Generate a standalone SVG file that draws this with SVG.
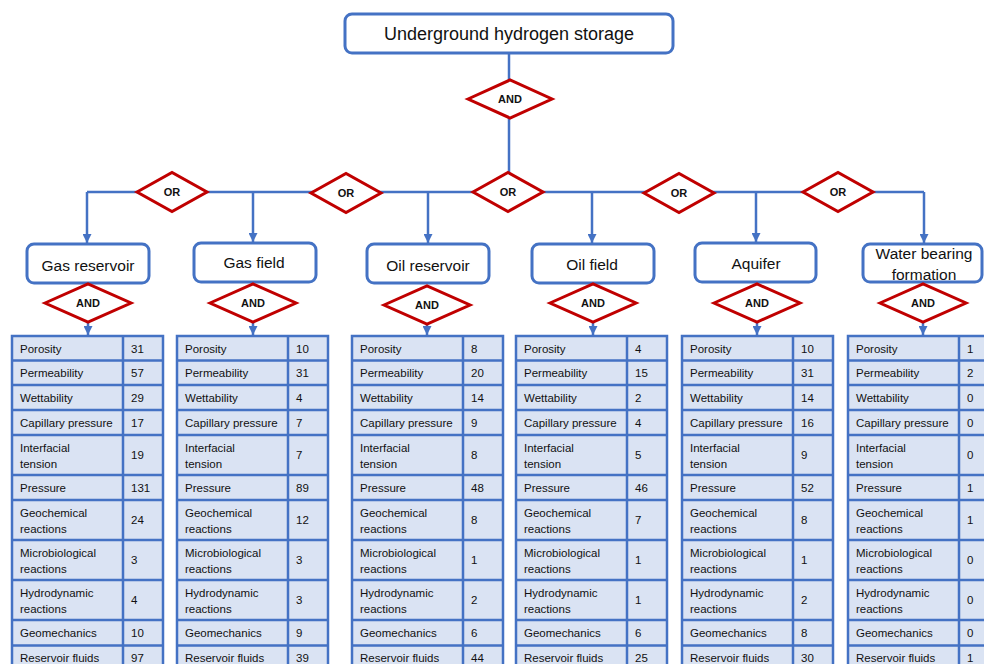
<svg xmlns="http://www.w3.org/2000/svg" width="984" height="664" viewBox="0 0 984 664">
<style>
text{font-family:"Liberation Sans",Arial,sans-serif;fill:#111}
.box{fill:#fff;stroke:#4472C4;stroke-width:3}
.gate{fill:#fff;stroke:#C00000;stroke-width:3}
.gt{font-weight:bold;font-size:11px;text-anchor:middle}
.lbl{font-size:15.5px;text-anchor:middle}
.conn{fill:none;stroke:#4472C4;stroke-width:2.5}
.tbl{fill:#DAE3F3;stroke:#4472C4;stroke-width:2.5}
.grid{fill:none;stroke:#4472C4;stroke-width:2.5}
.ct{font-size:11.5px}
</style>
<defs>
<marker id="arr" markerUnits="userSpaceOnUse" markerWidth="10" markerHeight="9" refX="9" refY="4.5" orient="auto">
<path d="M0,0 L9,4.5 L0,9 Z" fill="#4472C4"/>
</marker>
<path id="gridpath" d="M0 360.5H151M0 385H151M0 410H151M0 435H151M0 475H151M0 500H151M0 540H151M0 580H151M0 620H151M0 645.5H151M111 336V672"/>
</defs>

<g id="connectors">
<path class="conn" d="M509 53V80"/>
<path class="conn" d="M509 118V192"/>
<path class="conn" d="M87 192H924"/>
<path class="conn" d="M87 192V243" marker-end="url(#arr)"/>
<path class="conn" d="M253 192V242" marker-end="url(#arr)"/>
<path class="conn" d="M428 192V243" marker-end="url(#arr)"/>
<path class="conn" d="M592 192V243" marker-end="url(#arr)"/>
<path class="conn" d="M756 192V242" marker-end="url(#arr)"/>
<path class="conn" d="M924 192V243" marker-end="url(#arr)"/>
<path class="conn" d="M88 322V335" marker-end="url(#arr)"/>
<path class="conn" d="M253 322V335" marker-end="url(#arr)"/>
<path class="conn" d="M427 324V335" marker-end="url(#arr)"/>
<path class="conn" d="M593 322V335" marker-end="url(#arr)"/>
<path class="conn" d="M757 322V335" marker-end="url(#arr)"/>
<path class="conn" d="M923 322V335" marker-end="url(#arr)"/>
</g>

<g id="root">
<rect class="box" x="345" y="14" width="328" height="39" rx="7"/>
<text x="509" y="40" style="font-size:18px;text-anchor:middle">Underground hydrogen storage</text>
</g>
<g id="and-root">
<polygon class="gate" points="468,99 510,80 552,99 510,118"/>
<text class="gt" x="510" y="103">AND</text>
</g>

<g id="or-1"><polygon class="gate" points="137,192 172,172.5 207,192 172,211.5"/><text class="gt" x="172" y="196">OR</text></g>
<g id="or-2"><polygon class="gate" points="311,193 346,173.5 381,193 346,212.5"/><text class="gt" x="346" y="197">OR</text></g>
<g id="or-3"><polygon class="gate" points="473,192 508,172.5 543,192 508,211.5"/><text class="gt" x="508" y="196">OR</text></g>
<g id="or-4"><polygon class="gate" points="644,193 679,173.5 714,193 679,212.5"/><text class="gt" x="679" y="197">OR</text></g>
<g id="or-5"><polygon class="gate" points="803,192 838,172.5 873,192 838,211.5"/><text class="gt" x="838" y="196">OR</text></g>

<g id="gas-reservoir"><rect class="box" x="27" y="244" width="122" height="39" rx="7"/><text class="lbl" x="88" y="271">Gas reservoir</text></g>
<g id="gas-field"><rect class="box" x="194" y="243" width="122" height="39" rx="7"/><text class="lbl" x="254" y="268">Gas field</text></g>
<g id="oil-reservoir"><rect class="box" x="367" y="244" width="122" height="39" rx="7"/><text class="lbl" x="428" y="271">Oil reservoir</text></g>
<g id="oil-field"><rect class="box" x="532" y="244" width="122" height="39" rx="7"/><text class="lbl" x="592" y="270">Oil field</text></g>
<g id="aquifer"><rect class="box" x="695" y="243" width="121" height="39" rx="7"/><text class="lbl" x="756" y="269">Aquifer</text></g>
<g id="water-bearing-formation"><rect class="box" x="863" y="244" width="119" height="38" rx="7"/><text class="lbl" x="924" y="259">Water bearing</text><text class="lbl" x="924" y="280">formation</text></g>

<g id="and-1"><polygon class="gate" points="45,303 88,284 131,303 88,322"/><text class="gt" x="88" y="307">AND</text></g>
<g id="and-2"><polygon class="gate" points="210,303 253,284 296,303 253,322"/><text class="gt" x="253" y="307">AND</text></g>
<g id="and-3"><polygon class="gate" points="384,305 427,286 470,305 427,324"/><text class="gt" x="427" y="309">AND</text></g>
<g id="and-4"><polygon class="gate" points="550,303 593,284 636,303 593,322"/><text class="gt" x="593" y="307">AND</text></g>
<g id="and-5"><polygon class="gate" points="714,303 757,284 800,303 757,322"/><text class="gt" x="757" y="307">AND</text></g>
<g id="and-6"><polygon class="gate" points="880,303 923,284 966,303 923,322"/><text class="gt" x="923" y="307">AND</text></g>

<g id="table-gas-reservoir" transform="translate(12,0)">
<rect class="tbl" x="0" y="336" width="151" height="336"/><use href="#gridpath" class="grid"/>
<text class="ct" x="8" y="352.5">Porosity</text><text class="ct" x="8" y="377">Permeability</text><text class="ct" x="8" y="401.5">Wettability</text><text class="ct" x="8" y="426.5">Capillary pressure</text><text class="ct" x="8" y="452">Interfacial</text><text class="ct" x="8" y="468">tension</text><text class="ct" x="8" y="491.5">Pressure</text><text class="ct" x="8" y="517">Geochemical</text><text class="ct" x="8" y="533">reactions</text><text class="ct" x="8" y="556.5">Microbiological</text><text class="ct" x="8" y="573">reactions</text><text class="ct" x="8" y="597">Hydrodynamic</text><text class="ct" x="8" y="613">reactions</text><text class="ct" x="8" y="637">Geomechanics</text><text class="ct" x="8" y="662">Reservoir fluids</text>
<text class="ct" x="119" y="352.5">31</text><text class="ct" x="119" y="377">57</text><text class="ct" x="119" y="401.5">29</text><text class="ct" x="119" y="426.5">17</text><text class="ct" x="119" y="459">19</text><text class="ct" x="119" y="491.5">131</text><text class="ct" x="119" y="524">24</text><text class="ct" x="119" y="564">3</text><text class="ct" x="119" y="604">4</text><text class="ct" x="119" y="637">10</text><text class="ct" x="119" y="662">97</text>
</g>

<g id="table-gas-field" transform="translate(177,0)">
<rect class="tbl" x="0" y="336" width="151" height="336"/><use href="#gridpath" class="grid"/>
<text class="ct" x="8" y="352.5">Porosity</text><text class="ct" x="8" y="377">Permeability</text><text class="ct" x="8" y="401.5">Wettability</text><text class="ct" x="8" y="426.5">Capillary pressure</text><text class="ct" x="8" y="452">Interfacial</text><text class="ct" x="8" y="468">tension</text><text class="ct" x="8" y="491.5">Pressure</text><text class="ct" x="8" y="517">Geochemical</text><text class="ct" x="8" y="533">reactions</text><text class="ct" x="8" y="556.5">Microbiological</text><text class="ct" x="8" y="573">reactions</text><text class="ct" x="8" y="597">Hydrodynamic</text><text class="ct" x="8" y="613">reactions</text><text class="ct" x="8" y="637">Geomechanics</text><text class="ct" x="8" y="662">Reservoir fluids</text>
<text class="ct" x="119" y="352.5">10</text><text class="ct" x="119" y="377">31</text><text class="ct" x="119" y="401.5">4</text><text class="ct" x="119" y="426.5">7</text><text class="ct" x="119" y="459">7</text><text class="ct" x="119" y="491.5">89</text><text class="ct" x="119" y="524">12</text><text class="ct" x="119" y="564">3</text><text class="ct" x="119" y="604">3</text><text class="ct" x="119" y="637">9</text><text class="ct" x="119" y="662">39</text>
</g>

<g id="table-oil-reservoir" transform="translate(352,0)">
<rect class="tbl" x="0" y="336" width="151" height="336"/><use href="#gridpath" class="grid"/>
<text class="ct" x="8" y="352.5">Porosity</text><text class="ct" x="8" y="377">Permeability</text><text class="ct" x="8" y="401.5">Wettability</text><text class="ct" x="8" y="426.5">Capillary pressure</text><text class="ct" x="8" y="452">Interfacial</text><text class="ct" x="8" y="468">tension</text><text class="ct" x="8" y="491.5">Pressure</text><text class="ct" x="8" y="517">Geochemical</text><text class="ct" x="8" y="533">reactions</text><text class="ct" x="8" y="556.5">Microbiological</text><text class="ct" x="8" y="573">reactions</text><text class="ct" x="8" y="597">Hydrodynamic</text><text class="ct" x="8" y="613">reactions</text><text class="ct" x="8" y="637">Geomechanics</text><text class="ct" x="8" y="662">Reservoir fluids</text>
<text class="ct" x="119" y="352.5">8</text><text class="ct" x="119" y="377">20</text><text class="ct" x="119" y="401.5">14</text><text class="ct" x="119" y="426.5">9</text><text class="ct" x="119" y="459">8</text><text class="ct" x="119" y="491.5">48</text><text class="ct" x="119" y="524">8</text><text class="ct" x="119" y="564">1</text><text class="ct" x="119" y="604">2</text><text class="ct" x="119" y="637">6</text><text class="ct" x="119" y="662">44</text>
</g>

<g id="table-oil-field" transform="translate(516,0)">
<rect class="tbl" x="0" y="336" width="151" height="336"/><use href="#gridpath" class="grid"/>
<text class="ct" x="8" y="352.5">Porosity</text><text class="ct" x="8" y="377">Permeability</text><text class="ct" x="8" y="401.5">Wettability</text><text class="ct" x="8" y="426.5">Capillary pressure</text><text class="ct" x="8" y="452">Interfacial</text><text class="ct" x="8" y="468">tension</text><text class="ct" x="8" y="491.5">Pressure</text><text class="ct" x="8" y="517">Geochemical</text><text class="ct" x="8" y="533">reactions</text><text class="ct" x="8" y="556.5">Microbiological</text><text class="ct" x="8" y="573">reactions</text><text class="ct" x="8" y="597">Hydrodynamic</text><text class="ct" x="8" y="613">reactions</text><text class="ct" x="8" y="637">Geomechanics</text><text class="ct" x="8" y="662">Reservoir fluids</text>
<text class="ct" x="119" y="352.5">4</text><text class="ct" x="119" y="377">15</text><text class="ct" x="119" y="401.5">2</text><text class="ct" x="119" y="426.5">4</text><text class="ct" x="119" y="459">5</text><text class="ct" x="119" y="491.5">46</text><text class="ct" x="119" y="524">7</text><text class="ct" x="119" y="564">1</text><text class="ct" x="119" y="604">1</text><text class="ct" x="119" y="637">6</text><text class="ct" x="119" y="662">25</text>
</g>

<g id="table-aquifer" transform="translate(682,0)">
<rect class="tbl" x="0" y="336" width="151" height="336"/><use href="#gridpath" class="grid"/>
<text class="ct" x="8" y="352.5">Porosity</text><text class="ct" x="8" y="377">Permeability</text><text class="ct" x="8" y="401.5">Wettability</text><text class="ct" x="8" y="426.5">Capillary pressure</text><text class="ct" x="8" y="452">Interfacial</text><text class="ct" x="8" y="468">tension</text><text class="ct" x="8" y="491.5">Pressure</text><text class="ct" x="8" y="517">Geochemical</text><text class="ct" x="8" y="533">reactions</text><text class="ct" x="8" y="556.5">Microbiological</text><text class="ct" x="8" y="573">reactions</text><text class="ct" x="8" y="597">Hydrodynamic</text><text class="ct" x="8" y="613">reactions</text><text class="ct" x="8" y="637">Geomechanics</text><text class="ct" x="8" y="662">Reservoir fluids</text>
<text class="ct" x="119" y="352.5">10</text><text class="ct" x="119" y="377">31</text><text class="ct" x="119" y="401.5">14</text><text class="ct" x="119" y="426.5">16</text><text class="ct" x="119" y="459">9</text><text class="ct" x="119" y="491.5">52</text><text class="ct" x="119" y="524">8</text><text class="ct" x="119" y="564">1</text><text class="ct" x="119" y="604">2</text><text class="ct" x="119" y="637">8</text><text class="ct" x="119" y="662">30</text>
</g>

<g id="table-water-bearing-formation" transform="translate(848,0)">
<rect class="tbl" x="0" y="336" width="151" height="336"/><use href="#gridpath" class="grid"/>
<text class="ct" x="8" y="352.5">Porosity</text><text class="ct" x="8" y="377">Permeability</text><text class="ct" x="8" y="401.5">Wettability</text><text class="ct" x="8" y="426.5">Capillary pressure</text><text class="ct" x="8" y="452">Interfacial</text><text class="ct" x="8" y="468">tension</text><text class="ct" x="8" y="491.5">Pressure</text><text class="ct" x="8" y="517">Geochemical</text><text class="ct" x="8" y="533">reactions</text><text class="ct" x="8" y="556.5">Microbiological</text><text class="ct" x="8" y="573">reactions</text><text class="ct" x="8" y="597">Hydrodynamic</text><text class="ct" x="8" y="613">reactions</text><text class="ct" x="8" y="637">Geomechanics</text><text class="ct" x="8" y="662">Reservoir fluids</text>
<text class="ct" x="119" y="352.5">1</text><text class="ct" x="119" y="377">2</text><text class="ct" x="119" y="401.5">0</text><text class="ct" x="119" y="426.5">0</text><text class="ct" x="119" y="459">0</text><text class="ct" x="119" y="491.5">1</text><text class="ct" x="119" y="524">1</text><text class="ct" x="119" y="564">0</text><text class="ct" x="119" y="604">0</text><text class="ct" x="119" y="637">0</text><text class="ct" x="119" y="662">1</text>
</g>
</svg>
